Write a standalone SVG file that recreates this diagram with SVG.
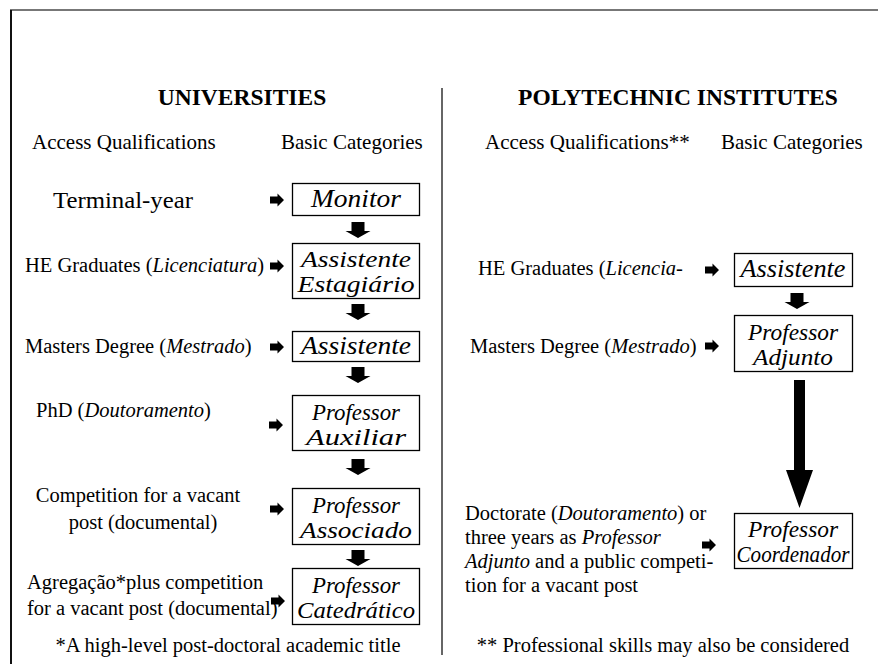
<svg xmlns="http://www.w3.org/2000/svg" width="878" height="664" viewBox="0 0 878 664">
<defs>
<style>
.t{font-family:"Liberation Serif","Times New Roman",serif;font-size:20.5px;fill:#000}
.h{font-family:"Liberation Serif","Times New Roman",serif;font-size:23.5px;font-weight:bold;fill:#000}
.b{font-family:"Liberation Serif","Times New Roman",serif;font-size:24px;font-style:italic;fill:#000}
.i{font-style:italic}
.box{fill:#fff;stroke:#000;stroke-width:1.3}
.ar{fill:#000}
</style>
<path id="ra" d="M0,-3.5 H7.5 V-6.5 L14,0 L7.5,6.5 V3.5 H0 Z"/>
<path id="da" d="M-6.5,0 H6.5 V9 H12.5 L0,16 L-12.5,9 H-6.5 Z"/>
</defs>
<g id="frame">
<line x1="10" y1="10" x2="878" y2="10" stroke="#777" stroke-width="2"/>
<line x1="11" y1="10" x2="11" y2="664" stroke="#111" stroke-width="2"/>
<line x1="442" y1="88" x2="442" y2="655" stroke="#666" stroke-width="2"/>
</g>
<g id="headers">
<text class="h" x="242" y="105" text-anchor="middle">UNIVERSITIES</text>
<text class="h" x="678" y="105" text-anchor="middle">POLYTECHNIC INSTITUTES</text>
<text class="t" x="32" y="149" style="font-size:21px">Access Qualifications</text>
<text class="t" x="281" y="149" style="font-size:21px">Basic Categories</text>
<text class="t" x="485" y="149" style="font-size:21px">Access Qualifications**</text>
<text class="t" x="721" y="149" style="font-size:21px">Basic Categories</text>
</g>
<g id="qualifications-left">
<text class="t" x="53" y="208" style="font-size:23.5px" textLength="140" lengthAdjust="spacingAndGlyphs">Terminal-year</text>
<text class="t" x="25" y="272">HE Graduates (<tspan class="i">Licenciatura</tspan>)</text>
<text class="t" x="25" y="353">Masters Degree (<tspan class="i">Mestrado</tspan>)</text>
<text class="t" x="36" y="417">PhD (<tspan class="i">Doutoramento</tspan>)</text>
<text class="t" x="138" y="502" text-anchor="middle">Competition for a vacant</text>
<text class="t" x="143" y="529" text-anchor="middle">post (documental)</text>
<text class="t" x="27" y="589">Agregação*plus competition</text>
<text class="t" x="27" y="615">for a vacant post (documental)</text>
<text class="t" x="228" y="652" text-anchor="middle">*A high-level post-doctoral academic title</text>
</g>
<g id="qualifications-right">
<text class="t" x="478" y="275">HE Graduates (<tspan class="i">Licencia-</tspan></text>
<text class="t" x="470" y="353">Masters Degree (<tspan class="i">Mestrado</tspan>)</text>
<text class="t" x="465" y="520">Doctorate (<tspan class="i">Doutoramento</tspan>) or</text>
<text class="t" x="465" y="544">three years as <tspan class="i">Professor</tspan></text>
<text class="t" x="465" y="568"><tspan class="i">Adjunto</tspan> and a public competi-</text>
<text class="t" x="465" y="592">tion for a vacant post</text>
<text class="t" x="663" y="652" text-anchor="middle">** Professional skills may also be considered</text>
</g>
<g id="monitor">
<rect class="box" x="292.5" y="183.5" width="127" height="32"/>
<text class="b" x="356" y="207" text-anchor="middle" textLength="90" lengthAdjust="spacingAndGlyphs" style="font-size:25px">Monitor</text>
</g>
<g id="assistente-estagiario">
<rect class="box" x="292.5" y="243.5" width="127" height="55"/>
<text class="b" x="356" y="267" text-anchor="middle" textLength="110" lengthAdjust="spacingAndGlyphs">Assistente</text>
<text class="b" x="356" y="292" text-anchor="middle" textLength="117" lengthAdjust="spacingAndGlyphs">Estagiário</text>
</g>
<g id="assistente-u">
<rect class="box" x="292.5" y="331.5" width="127" height="30"/>
<text class="b" x="356" y="354" text-anchor="middle" textLength="110" lengthAdjust="spacingAndGlyphs" style="font-size:25px">Assistente</text>
</g>
<g id="professor-auxiliar">
<rect class="box" x="292.5" y="395.5" width="127" height="55"/>
<text class="b" x="356" y="420" text-anchor="middle" textLength="88" lengthAdjust="spacingAndGlyphs">Professor</text>
<text class="b" x="356" y="445" text-anchor="middle" textLength="100" lengthAdjust="spacingAndGlyphs">Auxiliar</text>
</g>
<g id="professor-associado">
<rect class="box" x="292.5" y="488.5" width="127" height="56"/>
<text class="b" x="356" y="513" text-anchor="middle" textLength="88" lengthAdjust="spacingAndGlyphs">Professor</text>
<text class="b" x="356" y="538" text-anchor="middle" textLength="112" lengthAdjust="spacingAndGlyphs">Associado</text>
</g>
<g id="professor-catedratico">
<rect class="box" x="292.5" y="568.5" width="127" height="56"/>
<text class="b" x="356" y="593" text-anchor="middle" textLength="88" lengthAdjust="spacingAndGlyphs">Professor</text>
<text class="b" x="356" y="618" text-anchor="middle" textLength="118" lengthAdjust="spacingAndGlyphs">Catedrático</text>
</g>
<g id="assistente-p">
<rect class="box" x="734.5" y="253.5" width="118" height="33"/>
<text class="b" x="793" y="277" text-anchor="middle" textLength="105" lengthAdjust="spacingAndGlyphs" style="font-size:25px">Assistente</text>
</g>
<g id="professor-adjunto">
<rect class="box" x="734.5" y="315.5" width="118" height="56"/>
<text class="b" x="793" y="340" text-anchor="middle" textLength="90" lengthAdjust="spacingAndGlyphs">Professor</text>
<text class="b" x="793" y="365" text-anchor="middle" textLength="80" lengthAdjust="spacingAndGlyphs">Adjunto</text>
</g>
<g id="professor-coordenador">
<rect class="box" x="734.5" y="513.5" width="118" height="55"/>
<text class="b" x="793" y="537" text-anchor="middle" textLength="90" lengthAdjust="spacingAndGlyphs">Professor</text>
<text class="b" x="793" y="562" text-anchor="middle" textLength="113" lengthAdjust="spacingAndGlyphs">Coordenador</text>
</g>
<g id="connectors" class="ar">
<use href="#ra" x="270" y="200"/>
<use href="#ra" x="270" y="266"/>
<use href="#ra" x="270" y="347"/>
<use href="#ra" x="269" y="425"/>
<use href="#ra" x="270" y="509"/>
<use href="#ra" x="271" y="601"/>
<use href="#ra" x="705" y="270"/>
<use href="#ra" x="705" y="346"/>
<use href="#ra" x="702" y="545"/>
<use href="#da" x="358" y="222"/>
<use href="#da" x="358" y="304"/>
<use href="#da" x="358" y="367"/>
<use href="#da" x="358" y="459"/>
<use href="#da" x="358" y="550"/>
<use href="#da" x="797" y="293"/>
<path d="M794,380 H805 V470 H813 L799.5,508 L786,470 H794 Z"/>
</g>
</svg>
